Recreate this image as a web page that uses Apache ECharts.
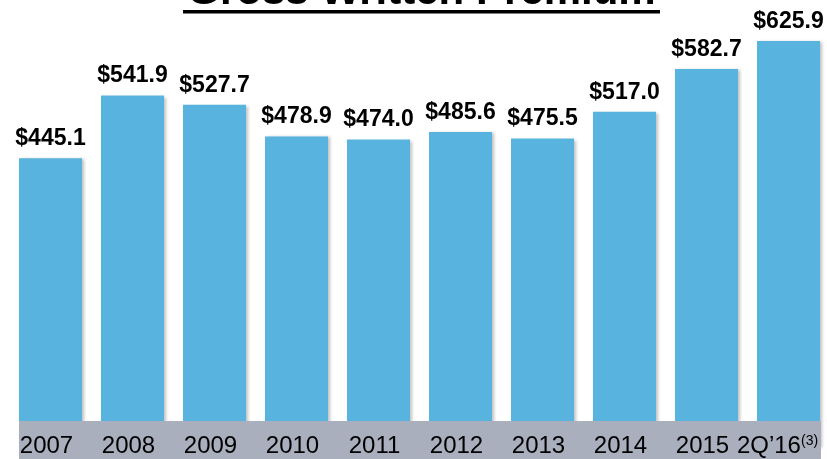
<!DOCTYPE html>
<html>
<head>
<meta charset="utf-8">
<script src="https://cdn.jsdelivr.net/npm/echarts@6/dist/echarts.min.js"></script>
<style>
  html, body { margin: 0; padding: 0; background: #fff; }
  #chart { width: 827px; height: 459px; }
</style>
</head>
<body>
<div id="chart"></div>
<script>
// 数据
var years = ['2007', '2008', '2009', '2010', '2011', '2012', '2013', '2014', '2015', '2Q\u201916'];
var premium = [445.1, 541.9, 527.7, 478.9, 474.0, 485.6, 475.5, 517.0, 582.7, 625.9];
var footnote = '(3)';
var titleText = 'Gross Written Premium';

var font = "'Liberation Sans', Arial, sans-serif";

var myChart = echarts.init(document.getElementById('chart'));

var option = {
    animation: false,
    grid: {
        left: 9.5,
        right: -2.5,
        top: 25.4,
        bottom: 12,
        containLabel: false,
        outerBoundsMode: 'none'
    },
    graphic: [
        {
            type: 'text',
            x: 421.5,
            y: 13.4,
            z: 10,
            style: {
                text: titleText,
                font: 'bold 42px ' + font,
                fill: '#000',
                textAlign: 'center',
                textVerticalAlign: 'bottom'
            }
        },
        {
            type: 'rect',
            z: 10,
            shape: { x: 183, y: 10, width: 477, height: 3.6 },
            style: { fill: '#000' }
        },
        {
            type: 'rect',
            z: 5,
            shape: { x: 19, y: 421, width: 802, height: 38 },
            style: { fill: '#A9AFBD' }
        }
    ],
    xAxis: {
        type: 'category',
        data: years,
        z: 10,
        axisLine: { show: false },
        axisTick: { show: false },
        axisLabel: {
            interval: 0,
            hideOverlap: false,
            margin: -13,
            fontFamily: font,
            fontSize: 24,
            color: '#000',
            padding: [0, 8, 0, 0],
            formatter: function (v, i) {
                return i === years.length - 1 ? v + '{sup|' + footnote + '}' : v;
            },
            rich: {
                sup: {
                    fontFamily: font,
                    fontSize: 14,
                    color: '#000',
                    verticalAlign: 'top',
                    padding: [0, 14, 0, 0]
                }
            }
        }
    },
    yAxis: {
        type: 'value',
        min: 0,
        max: 650,
        show: false,
        splitLine: { show: false }
    },
    series: [{
        type: 'bar',
        data: premium,
        barWidth: 63,
        itemStyle: {
            color: '#58B3DE',
            shadowColor: 'rgba(0,0,0,0.25)',
            shadowBlur: 3,
            shadowOffsetX: 2,
            shadowOffsetY: 1
        },
        label: {
            show: true,
            position: 'top',
            distance: 8,
            fontFamily: font,
            fontSize: 23,
            fontWeight: 'bold',
            color: '#000',
            formatter: function (p) {
                return '$' + p.value.toFixed(1);
            }
        }
    }]
};

myChart.setOption(option);
</script>
</body>
</html>
